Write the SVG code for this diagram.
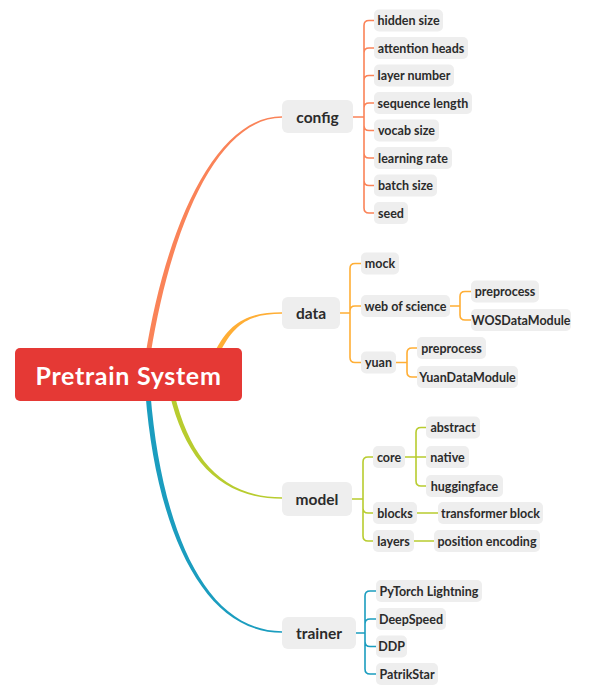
<svg xmlns="http://www.w3.org/2000/svg" width="590" height="696" viewBox="0 0 590 696">
<style>
  .n rect{fill:#EEEEEE}
  .n text{font-family:Lato,"Open Sans","Liberation Sans",sans-serif;font-weight:700;font-size:12.5px;fill:#2b2b2b;text-anchor:middle;dominant-baseline:central}
  .m text{font-size:15.5px}
  .b{fill:none;stroke-width:1.6;stroke-linecap:round;stroke-linejoin:round}
  .cfg{stroke:#FA8358}
  .dat{stroke:#FFAE35}
  .mdl{stroke:#B8CC2F}
  .trn{stroke:#1B9DBF}
</style>
<rect width="590" height="696" fill="#fff"/>
<g id="connectors">
  <path d="M145.5,355 C165.5,230 214,116.2 282,116.2 L282,117.8 C216,117.8 170.5,230 150.5,355 Z" fill="#FA8358"/>
  <path d="M214.8,352 C229.8,320.9 250,312.2 282,312.2 L282,313.8 C250,313.8 234.2,323.1 219.2,354 Z" fill="#FFAE35"/>
  <path d="M169.6,394 C185.6,460.6 221,498.8 282,498.8 L282,497.2 C223,497.2 190.4,459.4 174.4,394 Z" fill="#B8CC2F"/>
  <path d="M145.5,394 C155.5,521 199,632.8 282,632.8 L282,631.2 C201,631.2 160.5,519 150.5,394 Z" fill="#1B9DBF"/>
  <path class="b cfg" d="M353,117 H364 M374,20.5 H369 Q364,20.5 364,25.5 V208 Q364,213 369,213 H374 M364,53 Q364,48 369,48 H374 M364,80.5 Q364,75.5 369,75.5 H374 M364,108 Q364,103 369,103 H374 M364,125.5 Q364,130.5 369,130.5 H374 M364,153 Q364,158 369,158 H374 M364,180.5 Q364,185.5 369,185.5 H374"/>
  <path class="b dat" d="M340,313 H350 M361,263.5 H355 Q350,263.5 350,268.5 V357.5 Q350,362.5 355,362.5 H361 M350,311 Q350,306 355,306 H361 M450,306 H460 M471,291.5 H465 Q460,291.5 460,296.5 V315 Q460,320 465,320 H471 M396,362.5 H407 M417,348 H412 Q407,348 407,353 V372 Q407,377 412,377 H417"/>
  <path class="b mdl" d="M352,499 H363 M373,457 H368 Q363,457 363,462 V536 Q363,541 368,541 H373 M363,508 Q363,513 368,513 H373 M405,457 H426 M426,427.5 H421 Q416,427.5 416,432.5 V481 Q416,486 421,486 H426 M417,513 H438 M414,541 H434"/>
  <path class="b trn" d="M356,633 H365 M376,591 H370 Q365,591 365,596 V669 Q365,674 370,674 H376 M365,624 Q365,619 370,619 H376 M365,641.5 Q365,646.5 370,646.5 H376"/>
</g>
<g id="root">
  <rect x="15" y="348" width="227" height="53" rx="5" fill="#E53935"/>
  <text x="128.5" y="375" font-family="Lato,'Open Sans','Liberation Sans',sans-serif" font-weight="700" font-size="25" letter-spacing="0.7" fill="#fff" text-anchor="middle" dominant-baseline="central">Pretrain System</text>
</g>
<g id="config" class="n m"><rect x="282" y="100" width="71" height="33" rx="6"/><text x="317.5" y="116.5">config</text></g>
<g id="data" class="n m"><rect x="282" y="297" width="58" height="32" rx="6"/><text x="311" y="313">data</text></g>
<g id="model" class="n m"><rect x="282" y="482" width="70" height="34" rx="6"/><text x="317" y="499">model</text></g>
<g id="trainer" class="n m"><rect x="282" y="617" width="74" height="32" rx="6"/><text x="319" y="633">trainer</text></g>

<g id="hidden-size" class="n"><rect x="374" y="9.5" width="69" height="22" rx="5"/><text x="408.5" y="20.5">hidden size</text></g>
<g id="attention-heads" class="n"><rect x="374" y="37" width="94" height="22" rx="5"/><text x="421" y="48">attention heads</text></g>
<g id="layer-number" class="n"><rect x="374" y="64.5" width="80" height="22" rx="5"/><text x="414" y="75.5">layer number</text></g>
<g id="sequence-length" class="n"><rect x="374" y="92" width="98" height="22" rx="5"/><text x="423" y="103">sequence length</text></g>
<g id="vocab-size" class="n"><rect x="374" y="119.5" width="65" height="22" rx="5"/><text x="406.5" y="130.5">vocab size</text></g>
<g id="learning-rate" class="n"><rect x="374" y="147" width="78" height="22" rx="5"/><text x="413" y="158">learning rate</text></g>
<g id="batch-size" class="n"><rect x="374" y="174.5" width="63" height="22" rx="5"/><text x="405.5" y="185.5">batch size</text></g>
<g id="seed" class="n"><rect x="374" y="202" width="34" height="22" rx="5"/><text x="391" y="213">seed</text></g>

<g id="mock" class="n"><rect x="361" y="252.5" width="38" height="22" rx="5"/><text x="380" y="263.5">mock</text></g>
<g id="web-of-science" class="n"><rect x="361" y="295" width="89" height="22" rx="5"/><text x="405.5" y="306">web of science</text></g>
<g id="yuan" class="n"><rect x="361" y="351.5" width="35" height="22" rx="5"/><text x="378.5" y="362.5">yuan</text></g>
<g id="wos-preprocess" class="n"><rect x="471" y="280.5" width="68" height="22" rx="5"/><text x="505" y="291.5">preprocess</text></g>
<g id="wos-datamodule" class="n"><rect x="471" y="309" width="100" height="22" rx="5"/><text x="521" y="320">WOSDataModule</text></g>
<g id="yuan-preprocess" class="n"><rect x="417" y="337" width="69" height="22" rx="5"/><text x="451.5" y="348">preprocess</text></g>
<g id="yuan-datamodule" class="n"><rect x="417" y="366" width="101" height="22" rx="5"/><text x="467.5" y="377">YuanDataModule</text></g>

<g id="core" class="n"><rect x="373" y="446" width="32" height="22" rx="5"/><text x="389" y="457">core</text></g>
<g id="blocks" class="n"><rect x="373" y="502" width="44" height="22" rx="5"/><text x="395" y="513">blocks</text></g>
<g id="layers" class="n"><rect x="373" y="530" width="41" height="22" rx="5"/><text x="393.5" y="541">layers</text></g>
<g id="abstract" class="n"><rect x="426" y="416.5" width="54" height="22" rx="5"/><text x="453" y="427.5">abstract</text></g>
<g id="native" class="n"><rect x="426" y="446" width="43" height="22" rx="5"/><text x="447.5" y="457">native</text></g>
<g id="huggingface" class="n"><rect x="426" y="475" width="77" height="22" rx="5"/><text x="464.5" y="486">huggingface</text></g>
<g id="transformer-block" class="n"><rect x="438" y="502" width="105" height="22" rx="5"/><text x="490.5" y="513">transformer block</text></g>
<g id="position-encoding" class="n"><rect x="434" y="530" width="106" height="22" rx="5"/><text x="487" y="541">position encoding</text></g>

<g id="pytorch-lightning" class="n"><rect x="376" y="580" width="106" height="22" rx="5"/><text x="429" y="591">PyTorch Lightning</text></g>
<g id="deepspeed" class="n"><rect x="376" y="608" width="70" height="22" rx="5"/><text x="411" y="619">DeepSpeed</text></g>
<g id="ddp" class="n"><rect x="376" y="635.5" width="31" height="22" rx="5"/><text x="391.5" y="646.5">DDP</text></g>
<g id="patrikstar" class="n"><rect x="376" y="663" width="62" height="22" rx="5"/><text x="407" y="674">PatrikStar</text></g>
</svg>
